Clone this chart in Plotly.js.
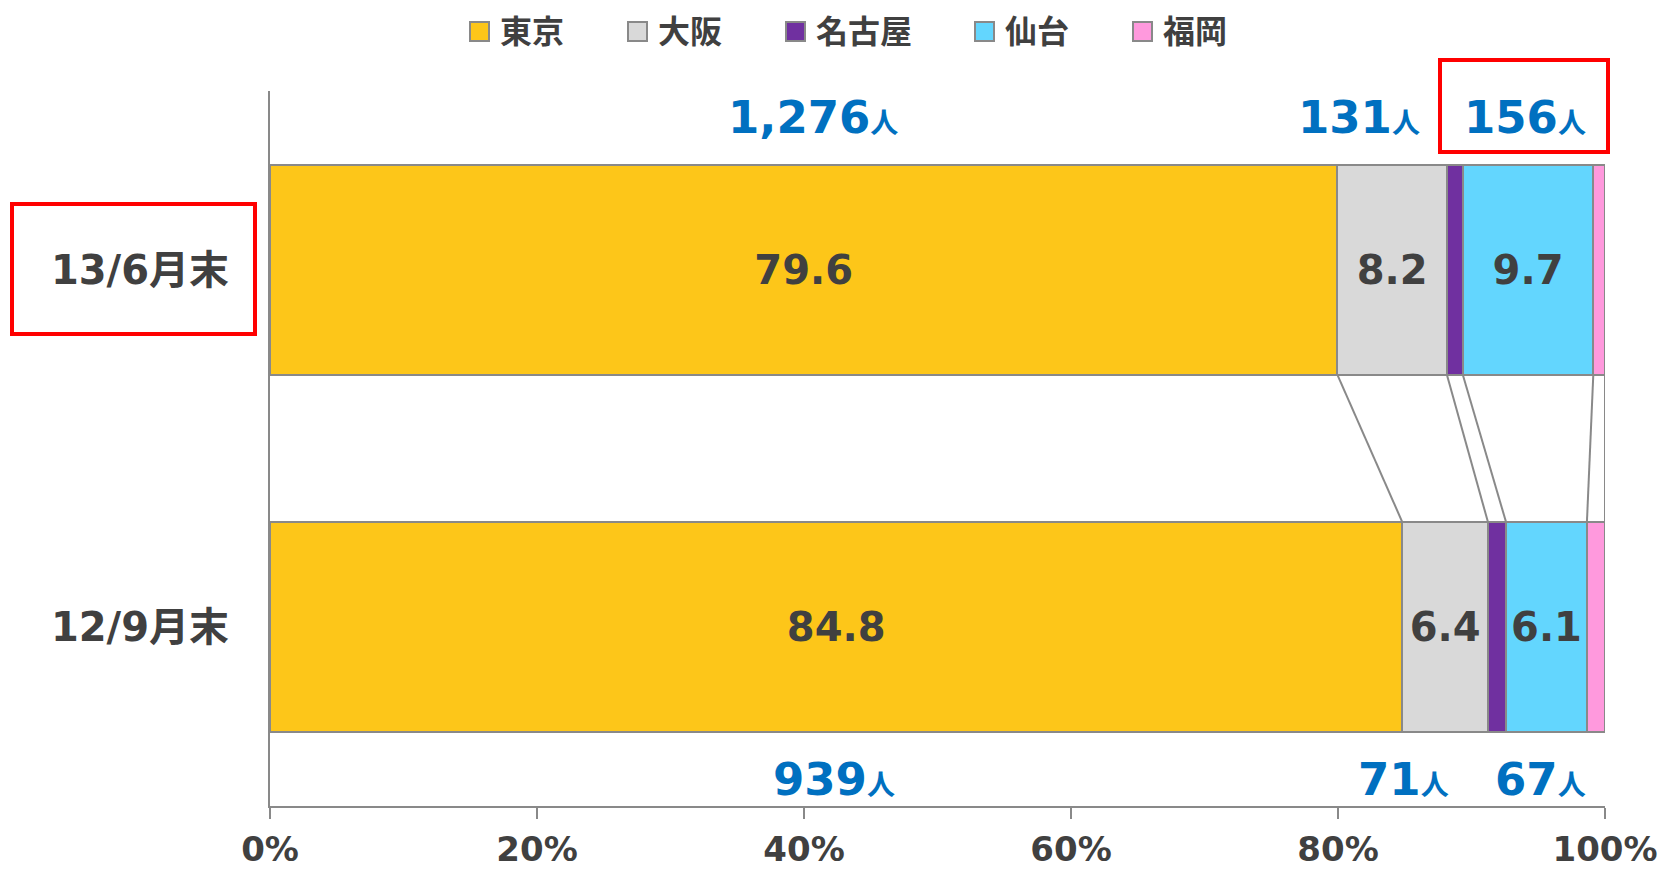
<!DOCTYPE html>
<html>
<head>
<meta charset="utf-8">
<script src="https://cdn.plot.ly/plotly-3.0.1.min.js"></script>
<style>html,body{margin:0;padding:0;background:#fff;}#chart{width:1665px;height:871px;}</style>
</head>
<body>
<div id="chart"></div>
<script>
// ---- data ----
var categories = ['12/9月末', '13/6月末'];
var seriesNames = ['東京', '大阪', '名古屋', '仙台', '福岡'];
var tokyo   = [939, 1276];
var osaka   = [71, 131];
var nagoya  = [15, 19];
var sendai  = [67, 156];
var fukuoka = [15, 14];
var tokyoShare  = ['84.8', '79.6'];
var osakaShare  = ['6.4', '8.2'];
var sendaiShare = ['6.1', '9.7'];
var xTicks = [0, 20, 40, 60, 80, 100];
var xTickLabels = ['0%', '20%', '40%', '60%', '80%', '100%'];

// ---- styles ----
var colors = ['#FDC619', '#D9D9D9', '#7030A0', '#63D6FE', '#FF99DD'];
var FONT = 'DejaVu Sans, Noto Sans CJK JP, sans-serif';
var DARK = '#404040';
var BLUE = '#0070C0';
var GRAY = '#898989';
var BARW = 0.587;

var values = [tokyo, osaka, nagoya, sendai, fukuoka];
var texts = [tokyoShare, osakaShare, null, sendaiShare, null];

var traces = seriesNames.map(function (name, i) {
  var t = {
    type: 'bar', orientation: 'h', name: name,
    y: categories, x: values[i], width: BARW,
    marker: {color: colors[i], line: {color: GRAY, width: 2}},
    hoverinfo: 'name+x', showlegend: false
  };
  if (texts[i]) {
    t.text = texts[i];
    t.textposition = 'inside';
    t.insidetextanchor = 'middle';
    t.textangle = 0;
    t.constraintext = 'none';
    t.textfont = {family: FONT, size: 40, color: DARK, weight: 'bold'};
  } else {
    t.textposition = 'none';
  }
  return t;
});

// cumulative percentage boundaries per category (for connector lines)
function cumulative(ci) {
  var total = 0;
  values.forEach(function (v) { total += v[ci]; });
  var acc = 0, out = [];
  values.forEach(function (v) { acc += v[ci]; out.push(acc / total * 100); });
  return out;
}
var cumBottom = cumulative(0);
var cumTop = cumulative(1);

var shapes = [];
for (var k = 0; k < cumTop.length; k++) {
  shapes.push({
    type: 'line', xref: 'x', yref: 'y',
    x0: cumTop[k], y0: 1 - BARW / 2, x1: cumBottom[k], y1: BARW / 2,
    line: {color: GRAY, width: 2}, layer: 'below'
  });
}

// pixel helpers for the layout decorations (plot area 270..1605 x, 91..806 y)
function px2p(px) { return (px - 270) / 1335; }
function py2p(py) { return (806 - py) / 715; }

// red highlight boxes
shapes.push({type: 'rect', xref: 'paper', yref: 'paper',
  x0: px2p(12), x1: px2p(255), y0: py2p(334), y1: py2p(204),
  line: {color: '#FF0000', width: 4}, fillcolor: 'rgba(0,0,0,0)'});
shapes.push({type: 'rect', xref: 'paper', yref: 'paper',
  x0: px2p(1440), x1: px2p(1608), y0: py2p(152), y1: py2p(60),
  line: {color: '#FF0000', width: 4}, fillcolor: 'rgba(0,0,0,0)'});

// custom legend
var legendLeftPx = [470, 628, 786, 975, 1133];
var annotations = [];
seriesNames.forEach(function (name, i) {
  shapes.push({type: 'rect', xref: 'paper', yref: 'paper',
    x0: px2p(legendLeftPx[i]), x1: px2p(legendLeftPx[i] + 19),
    y0: py2p(41), y1: py2p(22),
    fillcolor: colors[i], line: {color: GRAY, width: 2}});
  annotations.push({xref: 'paper', yref: 'paper',
    x: px2p(legendLeftPx[i] + 28), y: py2p(32),
    xanchor: 'left', yanchor: 'middle', showarrow: false,
    text: name, font: {family: FONT, size: 32, color: DARK, weight: 'bold'}});
});

// headcount labels
var countLabels = [
  {v: tokyo[1],  x: px2p(813),  y: py2p(117)},
  {v: osaka[1],  x: px2p(1359), y: py2p(117)},
  {v: sendai[1], x: px2p(1525), y: py2p(117)},
  {v: tokyo[0],  x: px2p(834),  y: py2p(779)},
  {v: osaka[0],  x: px2p(1403), y: py2p(779)},
  {v: sendai[0], x: px2p(1540), y: py2p(779)}
];
countLabels.forEach(function (c) {
  annotations.push({xref: 'paper', yref: 'paper', x: c.x, y: c.y,
    xanchor: 'center', yanchor: 'middle', showarrow: false,
    text: c.v.toLocaleString('en-US') + '<span style="font-size:28px">人</span>',
    font: {family: FONT, size: 45, color: BLUE, weight: 'bold'}});
});

var layout = {
  width: 1665, height: 871,
  margin: {l: 270, r: 60, t: 91, b: 65},
  paper_bgcolor: '#ffffff', plot_bgcolor: '#ffffff',
  barmode: 'stack', barnorm: 'percent',
  showlegend: false,
  font: {family: FONT, color: DARK},
  xaxis: {
    range: [0, 100], tickmode: 'array', tickvals: xTicks, ticktext: xTickLabels,
    showgrid: false, zeroline: false,
    showline: true, linecolor: GRAY, linewidth: 2,
    ticks: 'outside', ticklen: 11, tickcolor: GRAY, tickwidth: 2,
    ticklabelstandoff: 1,
    tickfont: {family: FONT, size: 34, color: DARK, weight: 'bold'},
    fixedrange: true
  },
  yaxis: {
    type: 'category', categoryorder: 'array', categoryarray: categories,
    range: [-0.5, 1.5],
    showgrid: false, zeroline: false,
    showline: true, linecolor: GRAY, linewidth: 2,
    ticks: '', ticklabelstandoff: 31,
    tickfont: {family: FONT, size: 40, color: DARK, weight: 'bold'},
    fixedrange: true
  },
  shapes: shapes,
  annotations: annotations
};

Plotly.newPlot('chart', traces, layout, {displayModeBar: false, staticPlot: true});
</script>
</body>
</html>
